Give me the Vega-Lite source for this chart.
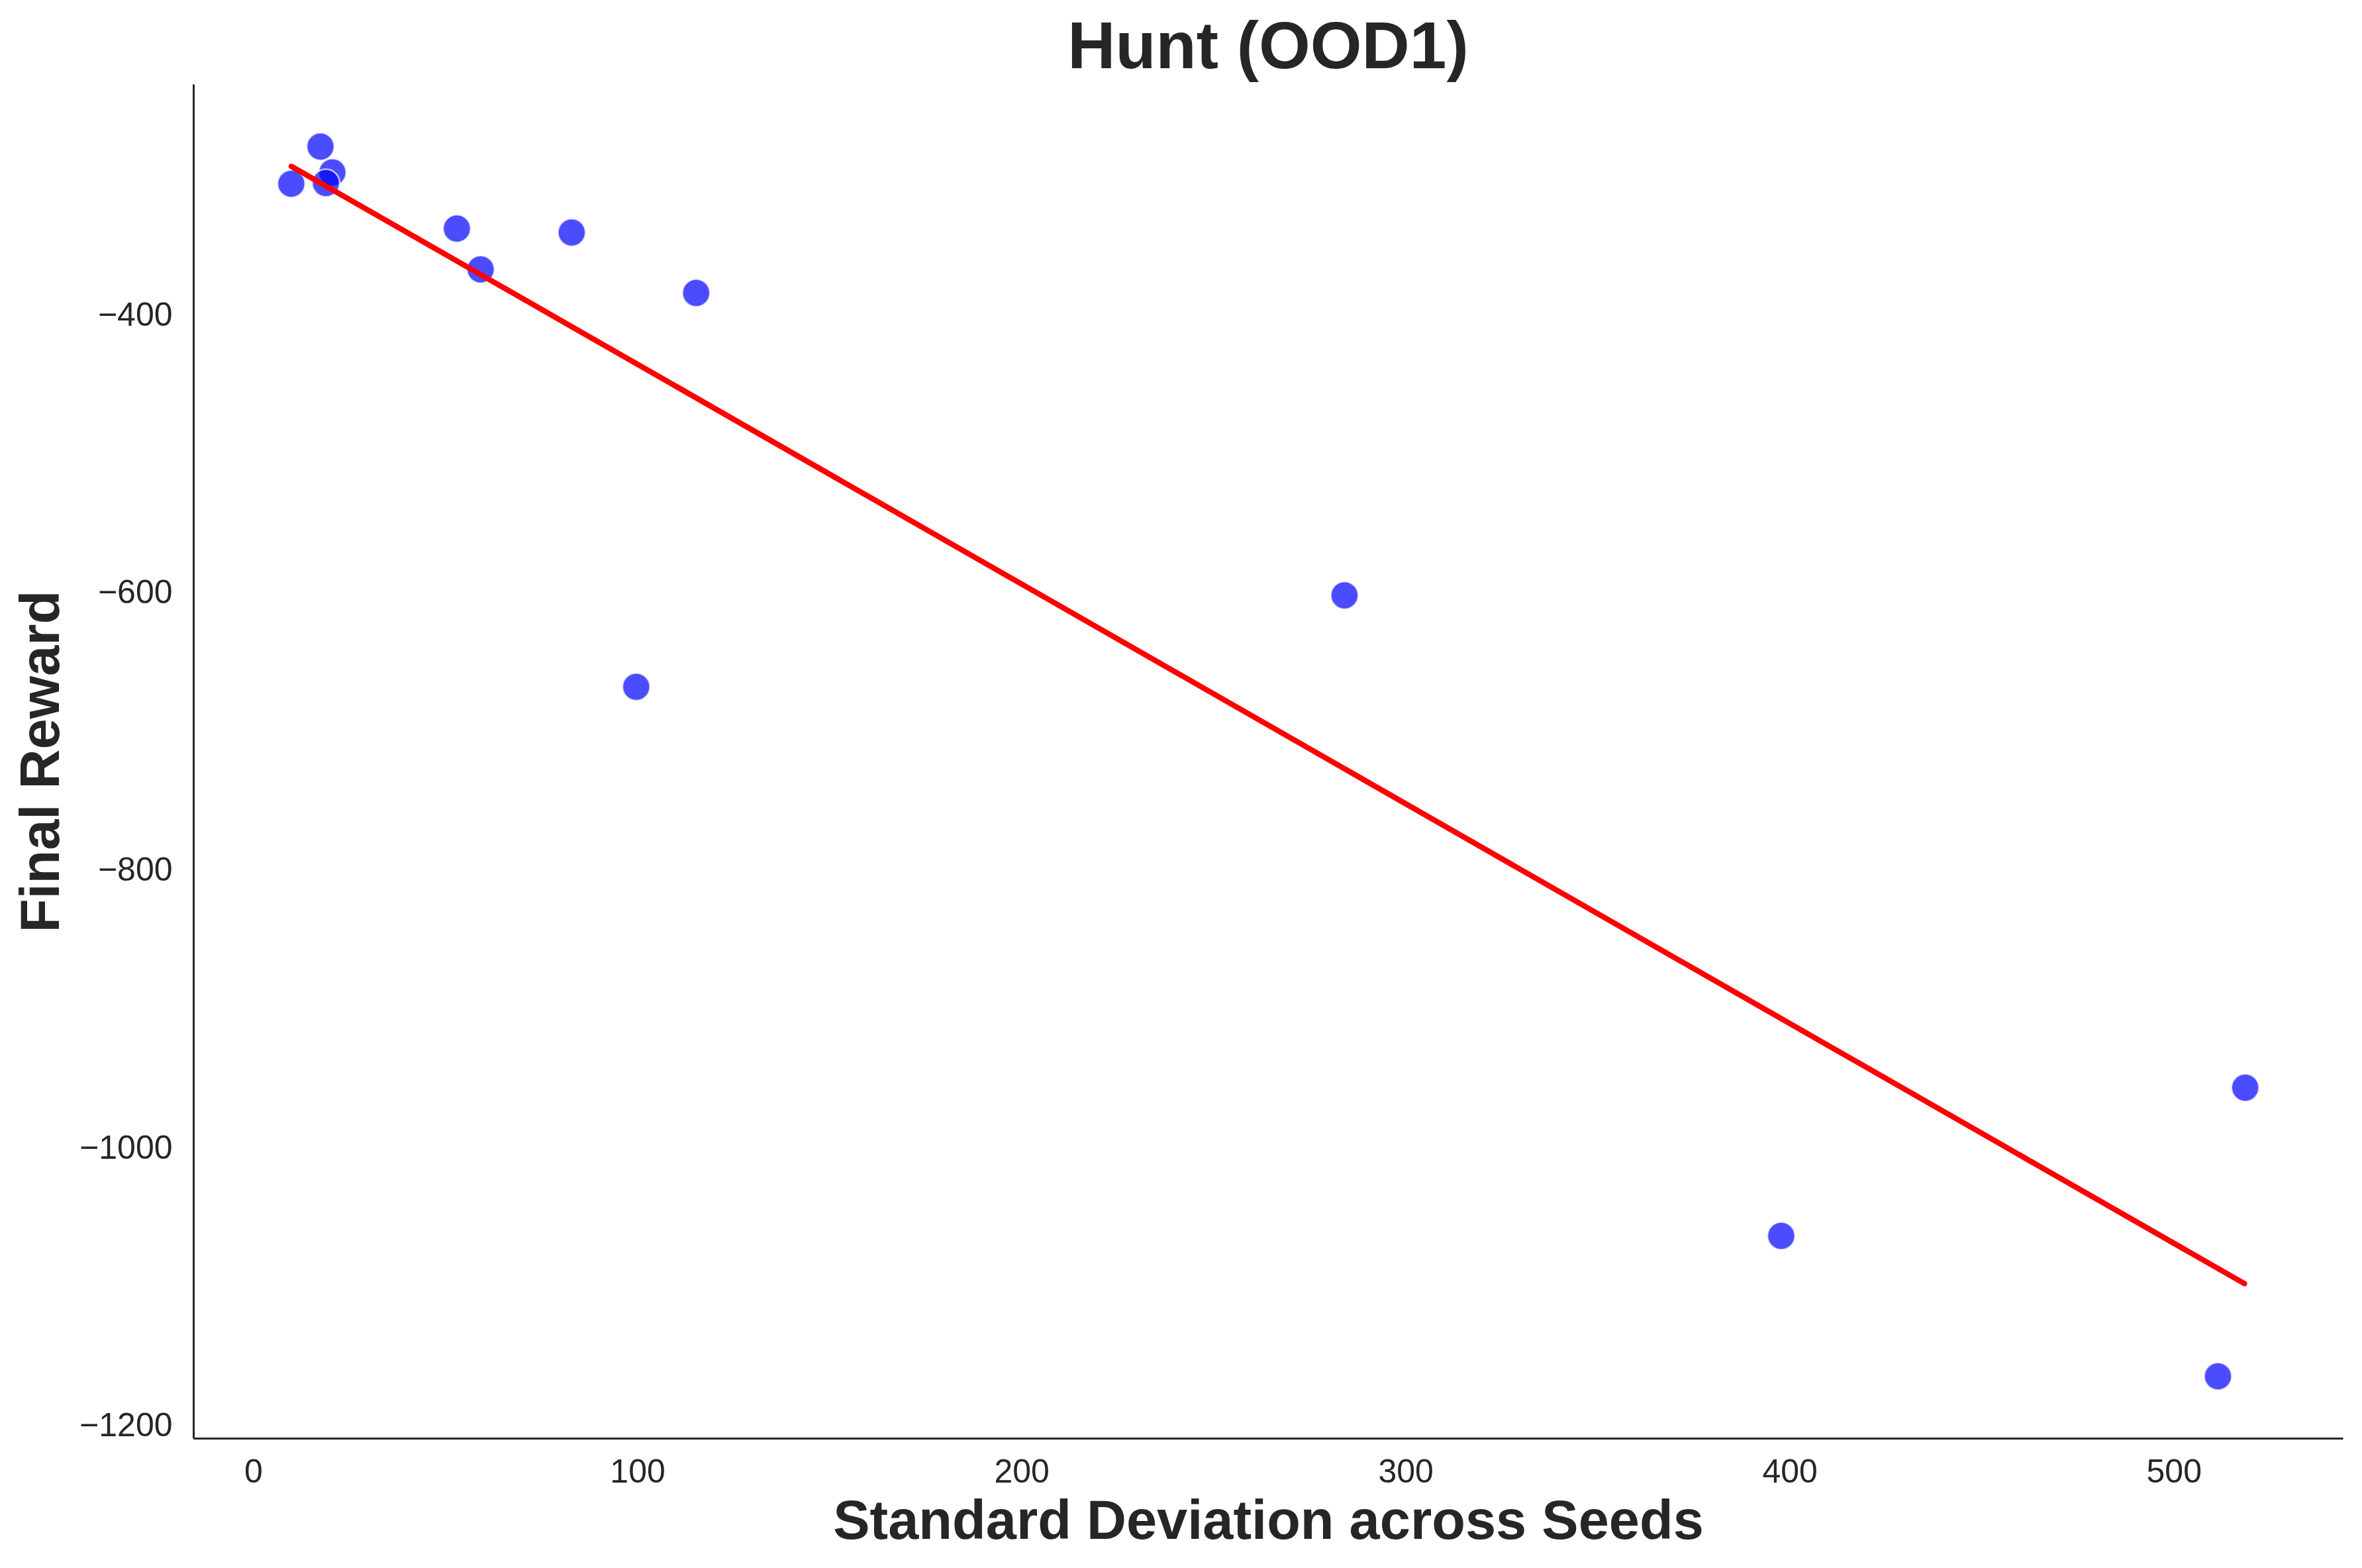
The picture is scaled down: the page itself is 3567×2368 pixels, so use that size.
{
  "$schema": "https://vega.github.io/schema/vega-lite/v6.json",
  "width": 3246,
  "height": 2045,
  "autosize": "none",
  "padding": {"left": 292, "top": 127, "right": 29, "bottom": 196},
  "background": "white",
  "config": {"view": {"stroke": null}, "font": "Liberation Sans"},
  "title": {
    "text": "Hunt (OOD1)",
    "fontSize": 100,
    "fontWeight": "bold",
    "color": "#262626",
    "font": "Liberation Sans",
    "anchor": "middle",
    "frame": "group",
    "offset": 3
  },
  "layer": [
    {
      "data": {
        "values": [
          {"std": 9.9, "reward": -305.0},
          {"std": 20.6, "reward": -296.8},
          {"std": 17.5, "reward": -278.2},
          {"std": 18.9, "reward": -304.5},
          {"std": 53.0, "reward": -337.3},
          {"std": 59.2, "reward": -366.7},
          {"std": 82.9, "reward": -340.1},
          {"std": 115.3, "reward": -383.7},
          {"std": 99.7, "reward": -667.5},
          {"std": 284.1, "reward": -601.6},
          {"std": 397.8, "reward": -1063.1},
          {"std": 518.6, "reward": -956.3},
          {"std": 511.5, "reward": -1164.3}
        ]
      },
      "mark": {
        "type": "point",
        "shape": "circle",
        "filled": true,
        "fill": "#0000ff",
        "fillOpacity": 0.7,
        "stroke": "white",
        "strokeOpacity": 0.7,
        "strokeWidth": 2.5,
        "size": 1735
      },
      "encoding": {
        "x": {
          "field": "std",
          "type": "quantitative",
          "title": "Standard Deviation across Seeds",
          "scale": {"domain": [-15.6, 544], "nice": false, "zero": false},
          "axis": {
            "values": [0, 100, 200, 300, 400, 500],
            "format": "d",
            "grid": false,
            "ticks": false,
            "tickSize": 0,
            "domainColor": "#262626",
            "domainWidth": 3,
            "labelFontSize": 50,
            "labelColor": "#262626",
            "labelPadding": 26,
            "labelFlush": false,
            "labelOverlap": false,
            "titleFontSize": 83,
            "titleFontWeight": "bold",
            "titleColor": "#262626",
            "titlePadding": 9
          }
        },
        "y": {
          "field": "reward",
          "type": "quantitative",
          "title": "Final Reward",
          "scale": {"domain": [-1208.9, -233.2], "nice": false, "zero": false},
          "axis": {
            "values": [-1200, -1000, -800, -600, -400],
            "format": "d",
            "grid": false,
            "ticks": false,
            "tickSize": 0,
            "domainColor": "#262626",
            "domainWidth": 3,
            "labelFontSize": 50,
            "labelColor": "#262626",
            "labelPadding": 32,
            "labelFlush": false,
            "labelOverlap": false,
            "titleFontSize": 83,
            "titleFontWeight": "bold",
            "titleColor": "#262626",
            "titlePadding": 31,
            "titleBaseline": "alphabetic"
          }
        }
      }
    },
    {
      "data": {
        "values": [
          {"std": 9.9, "fit": -292.4},
          {"std": 518.4, "fit": -1097.5}
        ]
      },
      "mark": {"type": "line", "color": "#ff0000", "strokeWidth": 8.3, "strokeCap": "round"},
      "encoding": {
        "x": {"field": "std", "type": "quantitative"},
        "y": {"field": "fit", "type": "quantitative"}
      }
    }
  ]
}
